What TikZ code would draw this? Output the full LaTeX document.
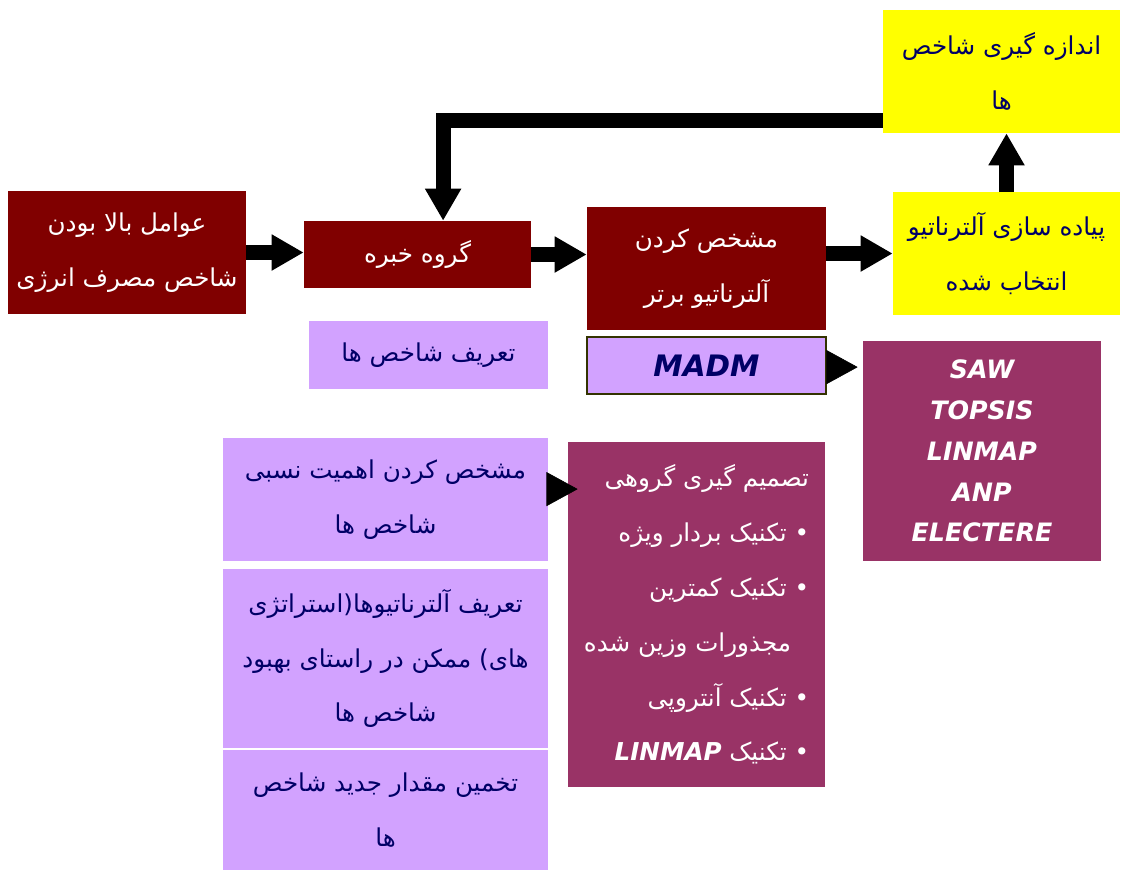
\documentclass[tikz,border=0pt]{standalone}
\usepackage{fontspec}
\newfontfamily\arabicfont[Script=Arabic]{DejaVu Sans}
\newfontfamily\latinfont{DejaVu Sans}
\TeXXeTstate=1
\usepackage{tikz}
\usetikzlibrary{arrows.meta,positioning}
\definecolor{boxred}{RGB}{128,0,0}
\definecolor{boxyellow}{RGB}{255,255,0}
\definecolor{boxlilac}{RGB}{210,162,255}
\definecolor{boxplum}{RGB}{153,51,102}
\definecolor{navytext}{RGB}{0,0,102}
\definecolor{oliveline}{RGB}{51,51,0}
\newcommand{\fa}[1]{\beginR #1\endR}
\newcommand{\en}[1]{\beginL #1\endL}

\begin{document}
\begin{tikzpicture}[
    x=0.025cm, y=-0.025cm,
    box/.style={rectangle, inner sep=0pt, align=center, font=\arabicfont\fontsize{17.5}{39}\selectfont},
    redbox/.style={box, fill=boxred, text=white},
    yellowbox/.style={box, fill=boxyellow, text=navytext},
    lilacbox/.style={box, fill=boxlilac, text=navytext},
    plumbox/.style={box, fill=boxplum, text=white},
    latintext/.style={font=\latinfont\bfseries\itshape\fontsize{18}{29}\selectfont},
    blockarrow/.style={line width=0.375cm, -{Triangle[length=0.8cm,width=0.85cm]}},
    headonly/.style={line width=0.4pt, -{Triangle[length=0.78cm,width=0.85cm]}}
]
\useasboundingbox (0,0) rectangle (1122,870);

% main row
\node[redbox, minimum width=5.95cm, minimum height=3.075cm] (factors) at (127,252.5)
    {\fa{عوامل بالا بودن}\\ \fa{شاخص مصرف انرژی}};
\node[redbox, minimum width=5.675cm, minimum height=1.675cm] (expert) at (417.5,254.5)
    {\fa{گروه خبره}};
\node[redbox, minimum width=5.975cm, minimum height=3.075cm] (best) at (706.5,268.5)
    {\fa{مشخص کردن}\\ \fa{آلترناتیو برتر}};
\node[yellowbox, minimum width=5.675cm, minimum height=3.075cm] (implement) at (1006.5,253.5)
    {\fa{پیاده سازی آلترناتیو}\\ \fa{انتخاب شده}};
\node[yellowbox, minimum width=5.925cm, minimum height=3.075cm] (measure) at (1001.5,71.5)
    {\fa{اندازه گیری شاخص}\\ \fa{ها}};

% second row
\node[lilacbox, minimum width=5.975cm, minimum height=1.7cm] (define) at (428.5,355)
    {\fa{تعریف شاخص ها}};
\node[lilacbox, latintext, font=\latinfont\bfseries\itshape\fontsize{21}{29}\selectfont, draw=oliveline, line width=1.5pt, minimum width=5.975cm, minimum height=1.425cm] (madm) at (706.5,365.5)
    {MADM};
\node[plumbox, latintext, minimum width=5.95cm, minimum height=5.5cm] (methods) at (982,451)
    {SAW\\ TOPSIS\\ LINMAP\\ ANP\\ ELECTERE};

% left column
\node[lilacbox, minimum width=8.125cm, minimum height=3.075cm] (weight) at (385.5,499.5)
    {\fa{مشخص کردن اهمیت نسبی}\\ \fa{شاخص ها}};
\node[lilacbox, minimum width=8.125cm, minimum height=4.475cm] (alts) at (385.5,658.5)
    {\fa{تعریف آلترناتیوها(استراتژی}\\ \fa{های) ممکن در راستای بهبود}\\ \fa{شاخص ها}};
\node[lilacbox, minimum width=8.125cm, minimum height=3cm] (estimate) at (385.5,810)
    {\fa{تخمین مقدار جدید شاخص}\\ \fa{ها}};

% group decision list
\node[plumbox, align=right, minimum width=6.425cm, minimum height=8.625cm] (group) at (696.5,614.5)
    {\fa{تصمیم گیری گروهی}\\
     \fa{• تکنیک بردار ویژه}\\
     \fa{• تکنیک کمترین}\\
     \fa{\hspace*{0.45cm}مجذورات وزین شده}\\
     \fa{• تکنیک آنتروپی}\\
     \fa{• تکنیک {\latinfont\bfseries\itshape\en{LINMAP}}}};

% arrows
\draw[blockarrow] (factors.east) -- (factors.east -| expert.west);
\draw[blockarrow] (expert.east) -- (expert.east -| best.west);
\draw[blockarrow] (implement.west -| best.east) -- (implement.west);
\draw[blockarrow] (implement.north) -- (implement.north |- measure.south);
\draw[blockarrow, line join=miter] ([yshift=0.325cm]measure.south west) -| ([xshift=0.64cm]expert.north);
\draw[headonly, shorten >=0.125cm] ([yshift=-0.04cm]madm.east) -- ([yshift=-0.04cm]madm.east -| methods.west);
\draw[headonly, shorten >=-0.25cm] ([yshift=0.26cm]weight.east) -- ([yshift=0.26cm]weight.east -| group.west);

\end{tikzpicture}
\end{document}
